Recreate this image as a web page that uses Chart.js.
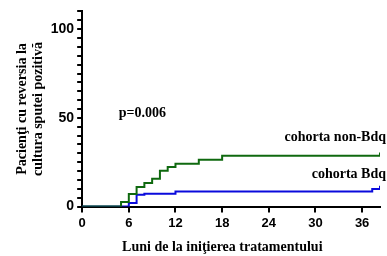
<!DOCTYPE html>
<html>
<head>
<meta charset="utf-8">
<script src="https://cdn.jsdelivr.net/npm/chart.js@4"></script>
<style>
  html, body { margin: 0; padding: 0; background: #fff; }
  #wrap { width: 387px; height: 256px; }
</style>
</head>
<body>
<div id="wrap"><canvas id="kmChart" width="387" height="256"></canvas></div>
<script>
// months where the curve steps, and the cumulative % at each step
const monthsNonBdq = [0, 5, 6, 7, 8, 9, 10, 11, 12, 15, 18, 38.3];
const valuesNonBdq = [0, 2.6, 7.1, 11, 13.3, 15.7, 20.2, 22.3, 24.2, 26.4, 28.6, 30.5];
const monthsBdq = [0, 6, 7, 8, 12, 37.3, 38.3];
const valuesBdq = [0, 2, 6.7, 7.3, 8.5, 9.9, 11.8];

const seriesNames = ['cohorta non-Bdq', 'cohorta Bdq'];
const xTicks = [0, 6, 12, 18, 24, 30, 36];
const yLabelled = [0, 50, 100];
const pValueText = 'p=0.006';

const serif = "'Liberation Serif', 'Times New Roman', serif";
const sans = "'Liberation Sans', Arial, sans-serif";

function toPoints(xs, ys) {
    return xs.map((x, i) => ({ x: x, y: ys[i] }));
}

// labels drawn next to the curves
const textPlugin = {
    id: 'curveText',
    afterDatasetsDraw(chart) {
        const ctx = chart.ctx;
        const xs = chart.scales.x;
        const ys = chart.scales.y;
        const right = chart.chartArea.right + 6;
        ctx.save();
        ctx.fillStyle = '#000';
        ctx.font = 'bold 14px ' + serif;
        ctx.textBaseline = 'middle';
        ctx.textAlign = 'left';
        ctx.fillText(pValueText, xs.getPixelForValue(4.7), ys.getPixelForValue(52.5));
        ctx.textAlign = 'right';
        ctx.fillText(seriesNames[0], right, ys.getPixelForValue(38.8));
        ctx.fillText(seriesNames[1], right, ys.getPixelForValue(18));
        ctx.restore();
    }
};

new Chart(document.getElementById('kmChart'), {
    type: 'line',
    data: {
        datasets: [
            {
                label: seriesNames[0],
                data: toPoints(monthsNonBdq, valuesNonBdq),
                borderColor: 'rgb(15, 105, 15)',
                borderWidth: 2,
                stepped: true,
                pointRadius: 0,
                fill: false
            },
            {
                label: seriesNames[1],
                data: toPoints(monthsBdq, valuesBdq),
                borderColor: 'rgb(10, 10, 220)',
                borderWidth: 2,
                stepped: true,
                pointRadius: 0,
                fill: false
            }
        ]
    },
    options: {
        responsive: false,
        animation: false,
        layout: { padding: { top: 6, right: 7, left: 15, bottom: 0 } },
        plugins: {
            legend: { display: false },
            tooltip: { enabled: false }
        },
        scales: {
            x: {
                type: 'linear',
                min: 0,
                max: 38.3,
                afterBuildTicks: (axis) => { axis.ticks = xTicks.map(v => ({ value: v })); },
                ticks: {
                    color: '#000',
                    font: { family: sans, size: 13, weight: 'bold' },
                    maxRotation: 0,
                    padding: 3
                },
                grid: { drawOnChartArea: false, color: '#000', lineWidth: 2, tickLength: 6 },
                border: { color: '#000', width: 2 },
                title: {
                    display: true,
                    text: 'Luni de la iniţierea tratamentului     ',
                    color: '#000',
                    font: { family: serif, size: 14, weight: 'bold' },
                    padding: { top: 5, bottom: 0 }
                }
            },
            y: {
                min: 0,
                max: 110,
                ticks: {
                    stepSize: 5,
                    autoSkip: false,
                    color: '#000',
                    font: { family: sans, size: 14, weight: 'bold' },
                    padding: 3,
                    callback: (v) => yLabelled.includes(v) ? String(v) : ''
                },
                grid: { drawOnChartArea: false, color: '#000', lineWidth: 2, tickLength: 5 },
                border: { color: '#000', width: 2 },
                title: {
                    display: true,
                    text: ['Pacienţi cu reversia la', 'cultura sputei pozitivă'],
                    color: '#000',
                    font: { family: serif, size: 14, weight: 'bold', lineHeight: 1.1 },
                    padding: { top: 0, bottom: 2 }
                }
            }
        }
    },
    plugins: [textPlugin]
});
</script>
</body>
</html>
